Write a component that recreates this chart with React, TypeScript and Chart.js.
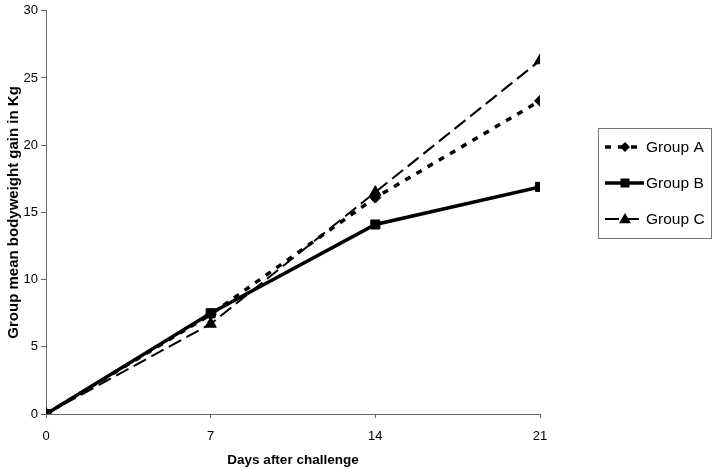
import React, { useEffect, useRef } from 'react';
import { Chart, registerables } from 'chart.js';

Chart.register(...registerables);

const days = [0, 7, 14, 21];
const groupA = [0, 7.4, 16.1, 23.3];
const groupB = [0, 7.5, 14.1, 16.9];
const groupC = [0, 6.7, 16.5, 26.3];
const seriesLabels = ['Group A', 'Group B', 'Group C'];
const xTickValues = [0, 7, 14, 21];
const yTickValues = [0, 5, 10, 15, 20, 25, 30];
const xTitle = 'Days after challenge';
const yTitle = 'Group mean bodyweight gain in Kg';

const FONT = '"Liberation Sans", Arial, Helvetica, sans-serif';

function drawMarker(ctx: CanvasRenderingContext2D, style: string, x: number, y: number) {
  ctx.beginPath();
  if (style === 'rectRot') {
    const r = 5;
    ctx.moveTo(x, y - r);
    ctx.lineTo(x + r, y);
    ctx.lineTo(x, y + r);
    ctx.lineTo(x - r, y);
    ctx.closePath();
  } else if (style === 'rect') {
    const s = 4.5;
    ctx.rect(x - s, y - s, 2 * s, 2 * s);
  } else {
    const r = 6;
    ctx.moveTo(x, y - r);
    ctx.lineTo(x + r, y + r * 0.7);
    ctx.lineTo(x - r, y + r * 0.7);
    ctx.closePath();
  }
  ctx.fillStyle = '#000';
  ctx.fill();
}

const boxLegend = {
  id: 'boxLegend',
  afterDraw(chart: any) {
    const ctx: CanvasRenderingContext2D = chart.ctx;
    const x0 = 598, y0 = 128, w = 113, h = 110;
    ctx.save();
    ctx.strokeStyle = '#777';
    ctx.lineWidth = 1;
    ctx.setLineDash([]);
    ctx.strokeRect(x0 + 0.5, y0 + 0.5, w, h);
    chart.data.datasets.forEach((ds: any, i: number) => {
      const y = y0 + 19 + i * 36;
      ctx.strokeStyle = '#000';
      ctx.lineWidth = ds.borderWidth;
      ctx.setLineDash(ds.borderDash || []);
      ctx.beginPath();
      ctx.moveTo(605, y);
      ctx.lineTo(644, y);
      ctx.stroke();
      ctx.setLineDash([]);
      drawMarker(ctx, ds.pointStyle, 625, y);
      ctx.fillStyle = '#000';
      ctx.font = `15.5px ${FONT}`;
      ctx.textBaseline = 'middle';
      ctx.textAlign = 'left';
      ctx.fillText(ds.label, 646, y + 1);
    });
    ctx.restore();
  },
};

function toPoints(vals: number[]) {
  return days.map((d, i) => ({ x: d, y: vals[i] }));
}

export default function App() {
  const ref = useRef<HTMLCanvasElement | null>(null);
  useEffect(() => {
    document.body.style.margin = '0';
    if (!ref.current) return;
    const chart = new Chart(ref.current, {
      type: 'line',
      data: {
        datasets: [
          {
            label: seriesLabels[0],
            data: toPoints(groupA),
            borderColor: '#000',
            backgroundColor: '#000',
            borderWidth: 3.5,
            borderDash: [6, 7],
            pointStyle: 'rectRot',
            pointRadius: 5.5,
            pointBorderWidth: 1,
          },
          {
            label: seriesLabels[1],
            data: toPoints(groupB),
            borderColor: '#000',
            backgroundColor: '#000',
            borderWidth: 3.5,
            pointStyle: 'rect',
            pointRadius: 6.4,
            pointBorderWidth: 1,
          },
          {
            label: seriesLabels[2],
            data: toPoints(groupC),
            borderColor: '#000',
            backgroundColor: '#000',
            borderWidth: 2,
            borderDash: [14, 6],
            pointStyle: 'triangle',
            pointRadius: 6.5,
            pointBorderWidth: 1,
          },
        ],
      },
      options: {
        animation: false,
        responsive: false,
        maintainAspectRatio: false,
        layout: { padding: { left: 0, right: 175, top: 9, bottom: 0 } },
        plugins: { legend: { display: false }, tooltip: { enabled: false } },
        scales: {
          x: {
            type: 'linear',
            min: 0,
            max: 21,
            afterBuildTicks: (s: any) => {
              s.ticks = xTickValues.map((v) => ({ value: v }));
            },
            afterFit: (s: any) => {
              s.height = 56;
            },
            grid: { drawOnChartArea: false, drawTicks: true, tickLength: 4, color: '#666' },
            border: { display: true, color: '#666', width: 1 },
            ticks: { color: '#000', font: { family: FONT, size: 13 }, padding: 11, maxRotation: 0 },
            title: {
              display: true,
              text: xTitle,
              color: '#000',
              font: { family: FONT, size: 13.5, weight: 'bold' },
              padding: { top: 0, bottom: 2 },
            },
          },
          y: {
            type: 'linear',
            min: 0,
            max: 30,
            afterBuildTicks: (s: any) => {
              s.ticks = yTickValues.map((v) => ({ value: v }));
            },
            afterFit: (s: any) => {
              s.width = 46;
            },
            grid: { drawOnChartArea: false, drawTicks: true, tickLength: 5, color: '#666' },
            border: { display: true, color: '#666', width: 1 },
            ticks: { color: '#000', font: { family: FONT, size: 13 }, padding: 3 },
            title: {
              display: true,
              text: yTitle,
              color: '#000',
              font: { family: FONT, size: 15, weight: 'bold' },
              padding: { top: 5, bottom: 0 },
            },
          },
        },
      },
      plugins: [boxLegend],
    } as any);
    return () => chart.destroy();
  }, []);
  return <canvas ref={ref} width={715} height={470} style={{ display: 'block' }} />;
}
